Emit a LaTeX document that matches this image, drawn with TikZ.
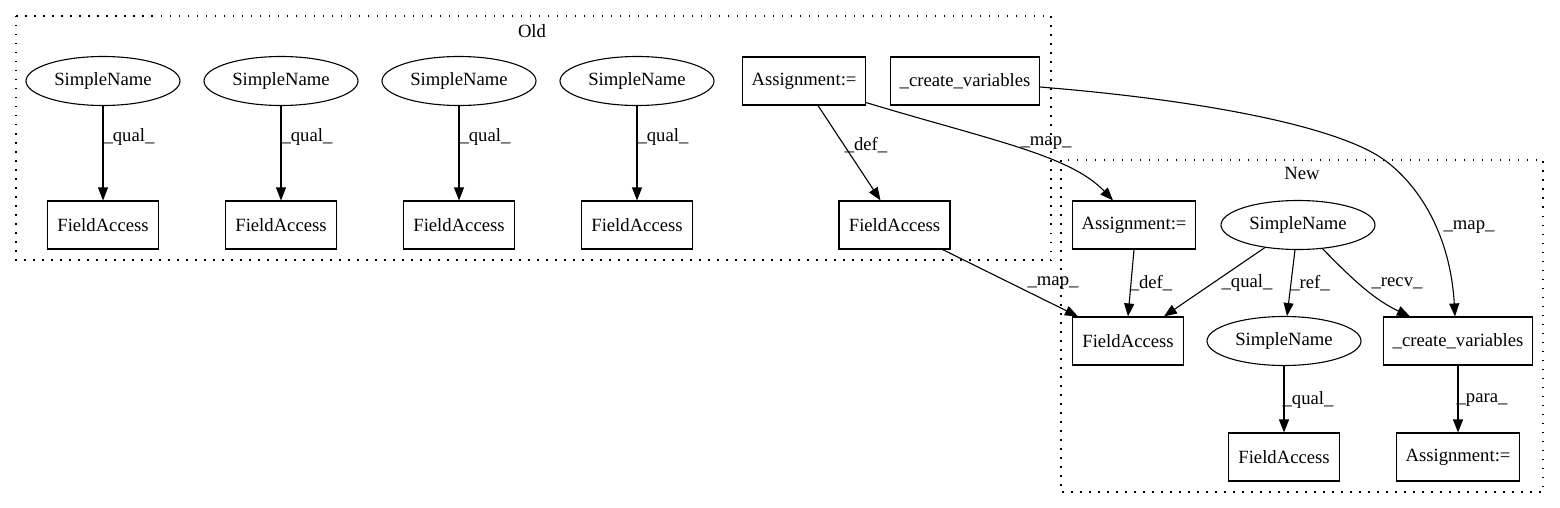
\documentclass[tikz,border=0pt]{standalone}
\usepackage{fontspec}
\setmainfont{Liberation Serif}
\usetikzlibrary{shapes.geometric,arrows.meta}

\begin{document}
\begin{tikzpicture}[
  x=1pt, y=-1pt,
  line width=1.1pt,
  every node/.style={font=\fontsize{18.67}{22}\selectfont},
  box/.style={draw, rectangle, minimum width=111pt, minimum height=48pt, inner xsep=9pt},
  sname/.style={draw, ellipse, minimum width=154pt, minimum height=49pt, inner sep=0pt},
  link/.style={-{Triangle[length=13pt,width=10pt]}},
  lbl/.style={inner sep=0pt},
  cluster/.style={dash pattern=on 1.5pt off 7.5pt}
]
  \useasboundingbox (0,0) rectangle (1560,508);

  % Old cluster
  \draw[cluster] (16,16) rectangle (1051,260);
  \node (oldlbl) at (532,31) {Old};
  \foreach \x [count=\i] in {103,281,459,637} {
    \node[sname] (s\i) at (\x,81) {SimpleName};
    \node[box] (f\i) at (\x,225) {FieldAccess};
    \draw[link] (s\i) -- node[lbl, pos=0.33, anchor=west] {\_qual\_} (f\i);
  }
  \node[box] (ao) at (804,81) {Assignment:=};
  \node[box] (co) at (965,81) {\_create\_variables};
  \node[box] (fo) at (894.5,225) {FieldAccess};

  % New cluster
  \draw[cluster] (1061,160) rectangle (1543,492);
  \node (newlbl) at (1302,173) {New};
  \node[box] (an) at (1134,225) {Assignment:=};
  \node[sname] (st) at (1298,225) {SimpleName};
  \node[box] (fn1) at (1128,341) {FieldAccess};
  \node[sname] (sm) at (1284,341) {SimpleName};
  \node[box] (cn) at (1458,341) {\_create\_variables};
  \node[box] (fn2) at (1284,457) {FieldAccess};
  \node[box] (an2) at (1458,457) {Assignment:=};

  % edges
  \draw[link] ([xshift=14pt]ao.south) -- ([xshift=-14pt]fo.north)
    node[lbl] at (866,145) {\_def\_};
  \draw[link] ([yshift=3pt]ao.south east) .. controls (990,140) and (1070,155) .. ([xshift=-21pt]an.north)
    node[lbl] at (1046,143) {\_map\_};
  \draw[link] ([yshift=-6pt]co.east) .. controls (1200,100) and (1330,125) .. (1380,157)
    .. controls (1415,180) and (1450,230) .. ([xshift=-3pt]cn.north)
    node[lbl] at (1469,227) {\_map\_};
  \draw[link] ([xshift=-8pt]fo.south east) -- ([xshift=6pt]fn1.north west)
    node[lbl] at (1053,283) {\_map\_};
  \draw[link] (an.south) -- (fn1.north)
    node[lbl] at (1151,283) {\_def\_};
  \draw[link] (st) -- (fn1)
    node[lbl] at (1247,283) {\_qual\_};
  \draw[link] (st) -- (sm)
    node[lbl] at (1310,283) {\_ref\_};
  \draw[link] (st.-44) .. controls (1355,282) and (1375,300) .. ([xshift=-48pt]cn.north)
    node[lbl] at (1397,283) {\_recv\_};
  \draw[link] (sm) -- (fn2)
    node[lbl] at (1308,400) {\_qual\_};
  \draw[link] (cn) -- (an2)
    node[lbl] at (1482,400) {\_para\_};

\end{tikzpicture}
\end{document}
